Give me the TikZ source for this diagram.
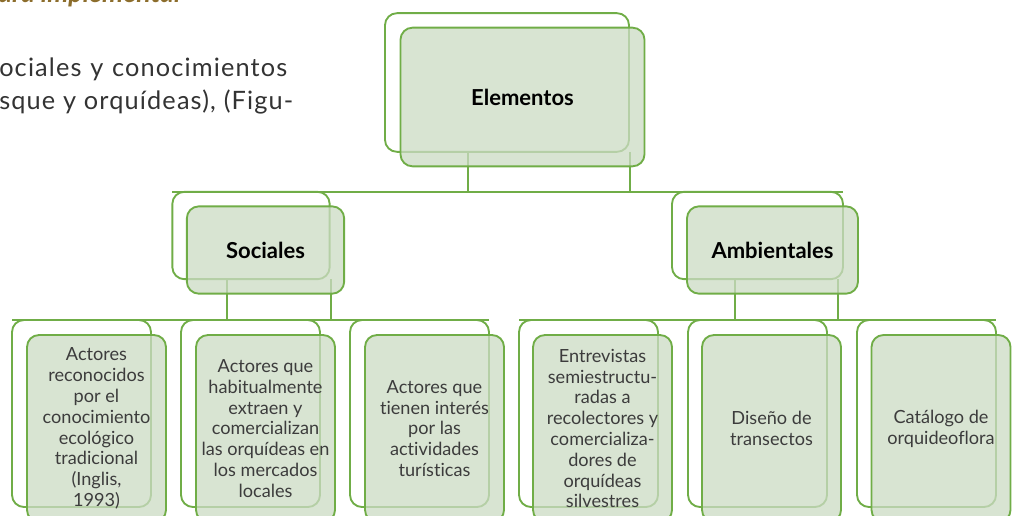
\documentclass[tikz,border=0pt]{standalone}
\usepackage{fontspec}
\setmainfont{Lato}[Ligatures=NoCommon]
\newfontfamily\widelato[LetterSpace=4.5,Ligatures=NoCommon]{Lato}
\definecolor{grn}{RGB}{112,173,71}
\definecolor{boxfill}{RGB}{204,219,196}
\definecolor{txtgray}{RGB}{60,60,60}
\definecolor{bodygray}{RGB}{51,51,51}
\definecolor{brownc}{RGB}{140,109,44}
\begin{document}
\begin{tikzpicture}[x=0.75pt,y=-0.75pt,
  backbox/.style={draw=grn, line width=1.4pt, rounded corners=9pt, inner sep=0pt, outer sep=0pt},
  frontbox/.style={backbox, fill=boxfill, fill opacity=0.76, text opacity=1, align=center,
    font=\fontsize{13.6}{15.6}\selectfont, text=txtgray},
  titletext/.style={font=\fontsize{16.5}{19}\selectfont\bfseries, text=black},
  conn/.style={draw=grn, line width=1.4pt},
  bodyline/.style={anchor=base west, inner sep=0pt, font=\widelato\fontsize{19}{22}\selectfont, text=bodygray},
  topsz/.style={minimum width=183pt, minimum height=104pt},
  midsz/.style={minimum width=118pt, minimum height=65.5pt},
  ambsz/.style={minimum width=128.25pt, minimum height=65.5pt},
  leafsz/.style={minimum width=104.25pt, minimum height=140.25pt}]
\useasboundingbox (0,0) rectangle (1014,515);

% page text
\node[anchor=base west, inner sep=0pt, font=\fontsize{20}{24}\selectfont\bfseries\itshape, text=brownc] (hdr) at (-2,2) {ara implementar};
\node[bodyline] (l1) at (-1,76) {\makebox[216pt][s]{ociales y conocimientos}};
\node[bodyline] (l2) at (-1,109) {\makebox[220.5pt][s]{sque y orquídeas), (Figu-}};

% back boxes
\node[backbox, topsz] (eback) at (507,82.5) {};
\node[backbox, midsz] (sback) at (251,235.5) {};
\node[backbox, ambsz] (aback) at (757.5,235.5) {};
\node[backbox, leafsz] (b1back) at (81.5,413.5) {};
\node[backbox, leafsz] (b2back) at (250.5,413.5) {};
\node[backbox, leafsz] (b3back) at (419.5,413.5) {};
\node[backbox, leafsz] (b4back) at (588.5,413.5) {};
\node[backbox, leafsz] (b5back) at (757.5,413.5) {};
\node[backbox, leafsz] (b6back) at (926.5,413.5) {};

% connectors
\coordinate (j1) at (468,192);
\coordinate (j2) at (630,192);
\coordinate (k1) at (227,320);
\coordinate (k2) at (331,320);
\coordinate (m1) at (735,320);
\coordinate (m2) at (838,320);
\draw[conn] (eback.south -| j1) -- (j1);
\draw[conn] (eback.south -| j2) -- (j2);
\draw[conn] (sback.north west) -- (aback.north east);
\draw[conn] (sback.south -| k1) -- (k1);
\draw[conn] (sback.south -| k2) -- (k2);
\draw[conn] (aback.south -| m1) -- (m1);
\draw[conn] (aback.south -| m2) -- (m2);
\draw[conn] (b1back.north west) -- (b3back.north east);
\draw[conn] (b4back.north west) -- (b6back.north east);

% front boxes
\node[frontbox, topsz, titletext] (efront) at (522.5,97) {Elementos};
\node[frontbox, midsz, titletext] (sfront) at (265.5,250) {Sociales};
\node[frontbox, ambsz, titletext] (afront) at (772.5,250) {Ambientales};
\node[frontbox, leafsz] (b1) at (96.5,428.5) {Actores\\reconocidos\\por el\\conocimiento\\ecológico\\tradicional\\(Inglis,\\1993)};
\node[frontbox, leafsz] (b2) at (265.5,428.5) {Actores que\\habitualmente\\extraen y\\comercializan\\las orquídeas en\\los mercados\\locales};
\node[frontbox, leafsz] (b3) at (434.5,428.5) {Actores que\\tienen interés\\por las\\actividades\\turísticas};
\node[frontbox, leafsz] (b4) at (602.5,428.5) {Entrevistas\\semiestructu-\\radas a\\recolectores y\\comercializa-\\dores de\\orquídeas\\silvestres};
\node[frontbox, leafsz] (b5) at (771.5,428.5) {Diseño de\\transectos};
\node[frontbox, leafsz] (b6) at (941,428.5) {Catálogo de\\orquideoflora};
\end{tikzpicture}
\end{document}
